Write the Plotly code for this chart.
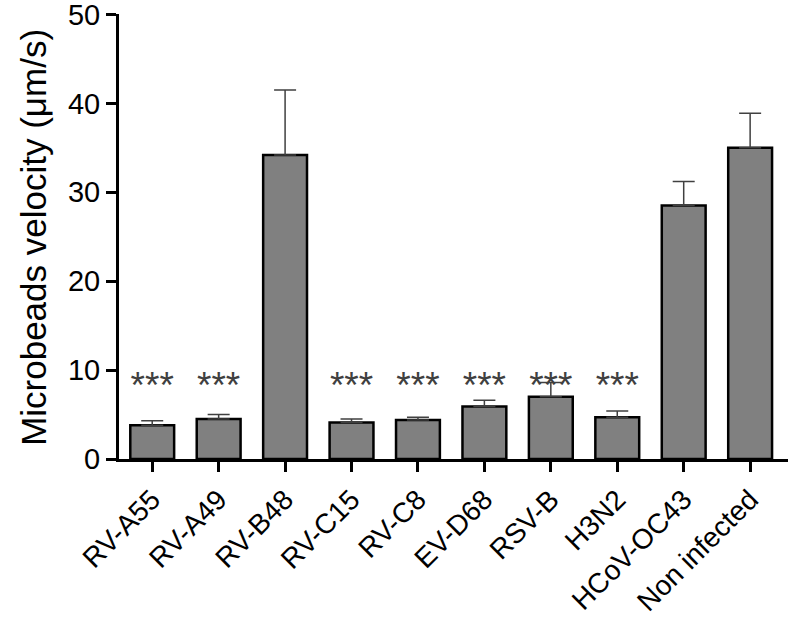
import plotly.graph_objects as go

# Datos
categorias = ["RV-A55", "RV-A49", "RV-B48", "RV-C15", "RV-C8",
              "EV-D68", "RSV-B", "H3N2", "HCoV-OC43", "Non infected"]
velocidad = [3.8, 4.5, 34.2, 4.1, 4.4, 5.9, 7.0, 4.7, 28.5, 35.0]
error_sup = [0.5, 0.5, 7.3, 0.4, 0.3, 0.7, 1.6, 0.7, 2.7, 3.9]
signif = ["***", "***", "", "***", "***", "***", "***", "***", "", ""]
y_ticks = [0, 10, 20, 30, 40, 50]

fuente = "Liberation Sans, Arial, sans-serif"

fig = go.Figure()

fig.add_trace(go.Bar(
    x=categorias,
    y=velocidad,
    width=0.66,
    marker=dict(color="#808080", line=dict(color="black", width=2.5)),
    error_y=dict(type="data", symmetric=False, array=error_sup,
                 arrayminus=[0] * len(error_sup),
                 color="#404040", thickness=1.5, width=11),
    showlegend=False
))

# Asteriscos de significancia
fig.add_trace(go.Scatter(
    x=categorias,
    y=[7.9] * len(categorias),
    mode="text",
    text=signif,
    textposition="middle center",
    textfont=dict(family=fuente, size=37, color="#404040"),
    showlegend=False,
    hoverinfo="skip"
))

fig.update_layout(
    width=788, height=619,
    margin=dict(l=119, r=0, t=14, b=160),
    plot_bgcolor="white",
    paper_bgcolor="white",
    font=dict(family=fuente, color="black"),
    annotations=[dict(
        text="Microbeads velocity (μm/s)",
        xref="paper", yref="paper", x=-0.127, y=0.497,
        xanchor="center", yanchor="middle", textangle=-90, showarrow=False,
        font=dict(size=35, family=fuente, color="black"),
    )],
)

fig.update_xaxes(
    range=[-0.5, 9.57],
    showline=True, linecolor="black", linewidth=3,
    ticks="outside", ticklen=10, tickwidth=3, tickcolor="black",
    tickangle=-45,
    tickfont=dict(size=28, family=fuente, color="black"),
    showgrid=False, zeroline=False, automargin=False,
)

fig.update_yaxes(
    range=[0, 50.05],
    tickvals=y_ticks,
    showline=True, linecolor="black", linewidth=3,
    ticks="outside", ticklen=10, tickwidth=3, tickcolor="black",
    tickfont=dict(size=29, family=fuente, color="black"),
    ticklabeloverflow="allow",
    showgrid=False, zeroline=False, automargin=False,
)

# quitar el margen por defecto del body para que la figura empiece en (0, 0)
fig.write_html("out.html", config={"displayModeBar": False},
               post_script="document.body.style.margin='0';")
